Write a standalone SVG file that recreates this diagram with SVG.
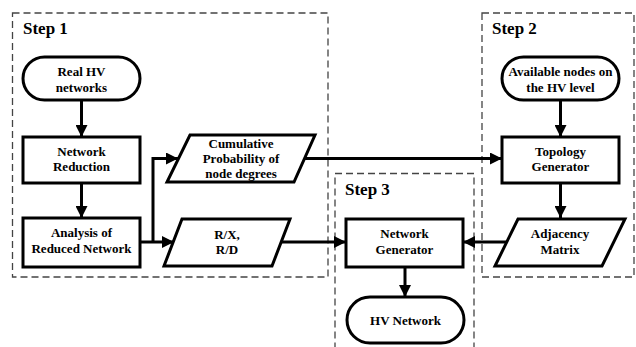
<svg xmlns="http://www.w3.org/2000/svg" width="636" height="347" viewBox="0 0 636 347" font-family="Liberation Serif, DejaVu Serif, serif">
  <defs>
    <marker id="arrow" viewBox="0 0 12 12" refX="12" refY="6" markerWidth="12" markerHeight="12" markerUnits="userSpaceOnUse" orient="auto">
      <path d="M0,0 L12,6 L0,12 Z" fill="#000"/>
    </marker>
  </defs>
  <style>
    .frame { fill: none; stroke: #444; stroke-width: 1.3; stroke-dasharray: 7 4; }
    .shape { fill: #fff; stroke: #000; stroke-width: 3; stroke-linejoin: miter; }
    .conn { fill: none; stroke: #000; stroke-width: 3; }
    .lbl { font-weight: bold; font-size: 13px; text-anchor: middle; fill: #000; }
    .step { font-weight: bold; font-size: 17px; fill: #000; }
  </style>

  <!-- step frames -->
  <g id="step1">
    <rect class="frame" x="12.5" y="13" width="315.5" height="264"/>
    <text class="step" x="23" y="34">Step 1</text>
  </g>
  <g id="step2">
    <rect class="frame" x="482" y="13" width="152" height="264"/>
    <text class="step" x="492" y="34">Step 2</text>
  </g>
  <g id="step3">
    <rect class="frame" x="335" y="173.5" width="139" height="180"/>
    <text class="step" x="345" y="195">Step 3</text>
  </g>

  <!-- connectors -->
  <g id="connectors">
    <line class="conn" x1="81.5" y1="100" x2="81.5" y2="137" marker-end="url(#arrow)"/>
    <line class="conn" x1="81.5" y1="183" x2="81.5" y2="218" marker-end="url(#arrow)"/>
    <line class="conn" x1="140" y1="242" x2="174" y2="242" marker-end="url(#arrow)"/>
    <polyline class="conn" points="153,242 153,158.5 178,158.5" marker-end="url(#arrow)"/>
    <line class="conn" x1="305" y1="158.5" x2="502" y2="158.5" marker-end="url(#arrow)"/>
    <line class="conn" x1="281" y1="242" x2="346" y2="242" marker-end="url(#arrow)"/>
    <line class="conn" x1="560.5" y1="100" x2="560.5" y2="137" marker-end="url(#arrow)"/>
    <line class="conn" x1="560.5" y1="183" x2="560.5" y2="218" marker-end="url(#arrow)"/>
    <line class="conn" x1="507" y1="242" x2="463" y2="242" marker-end="url(#arrow)"/>
    <line class="conn" x1="405" y1="267" x2="405" y2="297" marker-end="url(#arrow)"/>
  </g>

  <!-- step 1 nodes -->
  <g id="real-hv-networks">
    <rect class="shape" x="23" y="57" width="117" height="43" rx="21.5" ry="21.5"/>
    <text class="lbl" x="81.5" y="76">Real HV</text>
    <text class="lbl" x="81.5" y="92">networks</text>
  </g>
  <g id="network-reduction">
    <rect class="shape" x="23" y="137" width="117" height="46"/>
    <text class="lbl" x="81.5" y="156">Network</text>
    <text class="lbl" x="81.5" y="171">Reduction</text>
  </g>
  <g id="analysis">
    <rect class="shape" x="23" y="218" width="117" height="49"/>
    <text class="lbl" x="81.5" y="237">Analysis of</text>
    <text class="lbl" x="81.5" y="253">Reduced Network</text>
  </g>
  <g id="cumulative-probability">
    <polygon class="shape" points="190,135 315,135 294,182 167,182"/>
    <text class="lbl" x="241" y="148">Cumulative</text>
    <text class="lbl" x="241" y="163">Probability of</text>
    <text class="lbl" x="241" y="178">node degrees</text>
  </g>
  <g id="rx-rd">
    <polygon class="shape" points="182,219 290,219 272,266 164,266"/>
    <text class="lbl" x="227" y="239">R/X,</text>
    <text class="lbl" x="227" y="254">R/D</text>
  </g>

  <!-- step 2 nodes -->
  <g id="available-nodes">
    <rect class="shape" x="502" y="57" width="117" height="43" rx="21.5" ry="21.5"/>
    <text class="lbl" x="560.5" y="76">Available nodes on</text>
    <text class="lbl" x="560.5" y="92">the HV level</text>
  </g>
  <g id="topology-generator">
    <rect class="shape" x="502" y="137" width="117" height="46"/>
    <text class="lbl" x="560.5" y="156">Topology</text>
    <text class="lbl" x="560.5" y="171">Generator</text>
  </g>
  <g id="adjacency-matrix">
    <polygon class="shape" points="518,219 625,219 602,266 495,266"/>
    <text class="lbl" x="560" y="238">Adjacency</text>
    <text class="lbl" x="560" y="254">Matrix</text>
  </g>

  <!-- step 3 nodes -->
  <g id="network-generator">
    <rect class="shape" x="346" y="219" width="117" height="48"/>
    <text class="lbl" x="404.5" y="238">Network</text>
    <text class="lbl" x="404.5" y="254">Generator</text>
  </g>
  <g id="hv-network">
    <rect class="shape" x="347" y="297" width="117" height="46" rx="23" ry="23"/>
    <text class="lbl" x="405.5" y="325">HV Network</text>
  </g>
</svg>
